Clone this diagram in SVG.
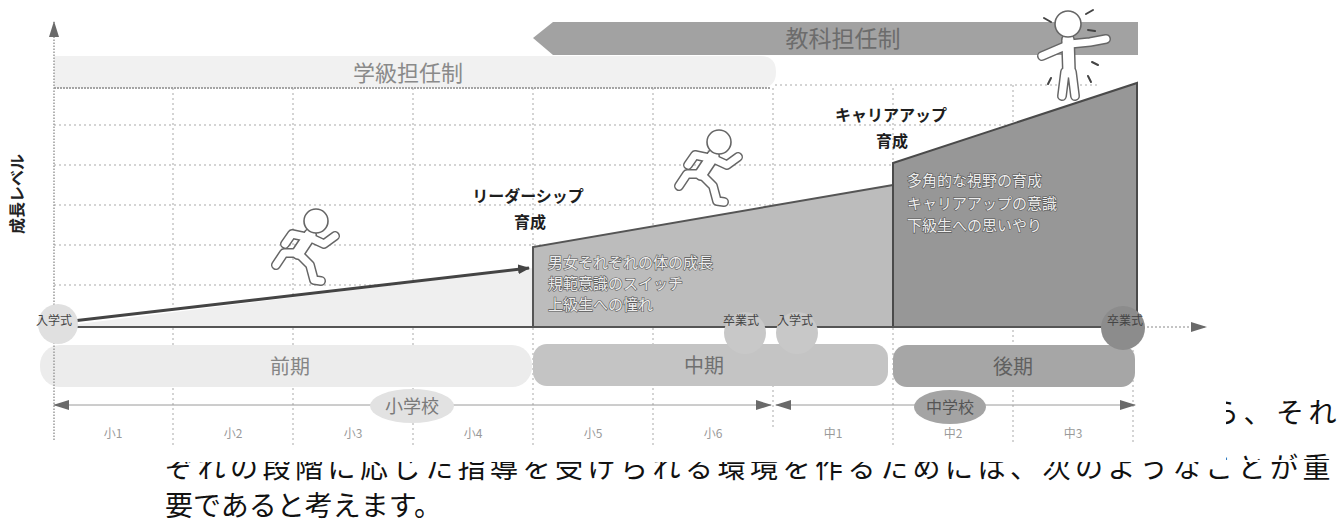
<svg xmlns="http://www.w3.org/2000/svg" width="1341" height="524" viewBox="0 0 1341 524">
  <defs>
    <style>
      text { font-family: "Noto Sans CJK JP", "Noto Sans", sans-serif; }
      .grid { fill: none; stroke: #a9a9a9; stroke-width: 1; stroke-dasharray: 2 3; }
      .head { font-size: 16px; font-weight: 700; fill: #1e1e1e; text-anchor: middle; }
      .inbox { font-size: 15px; fill: #eeeeee; stroke: #585858; stroke-width: 1.2; paint-order: stroke; }
      .period { font-size: 20px; text-anchor: middle; }
      .year { font-size: 12px; fill: #9a9a9a; text-anchor: middle; }
      .event { font-size: 12px; fill: #444; text-anchor: middle; }
      .body { font-size: 28px; fill: #111; }
      .lo { fill: none; stroke: #666; stroke-width: 10; stroke-linecap: round; stroke-linejoin: round; }
      .li { fill: none; stroke: #fff; stroke-width: 7; stroke-linecap: round; stroke-linejoin: round; }
      .to { fill: none; stroke: #666; stroke-width: 14; stroke-linecap: round; }
      .ti { fill: none; stroke: #fff; stroke-width: 11; stroke-linecap: round; }
      .skull { fill: #fff; stroke: #666; stroke-width: 1.6; }
    </style>
    <marker id="tri" viewBox="0 0 16 10" refX="15" refY="5" markerWidth="16" markerHeight="10" markerUnits="userSpaceOnUse" orient="auto-start-reverse">
      <path d="M0,0 L16,5 L0,10 Z" fill="#6a6a6a"/>
    </marker>
    <marker id="triDark" viewBox="0 0 12 10" refX="11" refY="5" markerWidth="12" markerHeight="10" markerUnits="userSpaceOnUse" orient="auto">
      <path d="M0,0 L12,5 L0,10 Z" fill="#444"/>
    </marker>
    <symbol id="runner" viewBox="0 0 80 80" width="80" height="80" overflow="visible">
      <path class="lo" d="M36,30 L22,27 L15,37 M41,31 L54,37 L65,29 M28,46 L14,46 L6,58 M28,46 L40,58 L44,73 L51,74"/>
      <path class="to" d="M40,28 L28,46"/>
      <path class="li" d="M36,30 L22,27 L15,37 M41,31 L54,37 L65,29 M28,46 L14,46 L6,58 M28,46 L40,58 L44,73 L51,74"/>
      <path class="ti" d="M40,28 L28,46"/>
      <circle class="skull" cx="46" cy="14" r="12"/>
    </symbol>
    <clipPath id="pageText">
      <rect x="0" y="462" width="1341" height="62"/>
      <rect x="1226" y="380" width="115" height="80"/>
    </clipPath>
  </defs>

  <rect width="1341" height="524" fill="#fff"/>

  <!-- running text of the page around the figure -->
  <g id="page-text" class="body" clip-path="url(#pageText)">
    <text x="1211" y="423" letter-spacing="4.5">ら、それ</text>
    <text x="165" y="478" letter-spacing="4.5">ぞれの段階に応じた指導を受けられる環境を作るためには、次のようなことが重</text>
  </g>
  <text class="body" x="165" y="516">要であると考えます。</text>

  <!-- grid -->
  <g id="grid">
    <path class="grid" d="M54,125 H1013 M54,165 H1013 M54,205 H1013 M54,245 H1013 M54,285 H1013 M775,85 H1100"/>
    <path class="grid" d="M173,88 V445 M293,88 V445 M413,88 V445 M533,88 V445 M653,88 V445 M773,88 V327 M893,88 V445 M1013,85 V445 M1133,330 V445 M773,385 V428"/>
  </g>

  <!-- homeroom / subject teacher bands -->
  <g id="band-homeroom">
    <path d="M54,56 H760 Q776,56 776,72 Q776,88 760,88 H54 Z" fill="#f1f1f1"/>
    <path d="M54,88 H770" stroke="#a4a4a4" stroke-width="2" stroke-dasharray="2 1"/>
    <text x="408" y="81" font-size="22" fill="#8a8a8a" text-anchor="middle">学級担任制</text>
  </g>
  <g id="band-subject">
    <path d="M533,38 L553,22 H1138 V55 H553 Z" fill="#a2a2a2"/>
    <text x="843" y="47" font-size="23" fill="#6c6c6c" text-anchor="middle">教科担任制</text>
  </g>

  <!-- growth stages -->
  <g id="stage-early">
    <path d="M54,327 L533,268 V327 Z" fill="#efefef"/>
  </g>
  <g id="stage-middle">
    <path d="M533,247 L893,185 V327 H533 Z" fill="#bcbcbc"/>
    <path d="M533,327 V247 L893,185" fill="none" stroke="#555" stroke-width="2"/>
    <text class="inbox" x="548" y="268">男女それぞれの体の成長</text>
    <text class="inbox" x="548" y="289">規範意識のスイッチ</text>
    <text class="inbox" x="548" y="310">上級生への憧れ</text>
  </g>
  <g id="stage-late">
    <path d="M893,163 L1137,83 V327 H893 Z" fill="#979797"/>
    <path d="M893,327 V163 L1137,83 V327" fill="none" stroke="#4a4a4a" stroke-width="2"/>
    <text class="inbox" x="907" y="186">多角的な視野の育成</text>
    <text class="inbox" x="907" y="209">キャリアアップの意識</text>
    <text class="inbox" x="907" y="231">下級生への思いやり</text>
  </g>

  <!-- stage titles -->
  <g id="title-leadership">
    <text class="head" x="528" y="202">リーダーシップ</text>
    <text class="head" x="530" y="228">育成</text>
  </g>
  <g id="title-career">
    <text class="head" x="891" y="121">キャリアアップ</text>
    <text class="head" x="892" y="147">育成</text>
  </g>

  <!-- term bands -->
  <g id="term-early">
    <rect x="40" y="345" width="492" height="42" rx="20" fill="#ececec"/>
    <text class="period" x="290" y="374" fill="#858585">前期</text>
  </g>
  <g id="term-middle">
    <rect x="533" y="344" width="355" height="42" rx="14" fill="#c4c4c4"/>
    <text class="period" x="704" y="373" fill="#707070">中期</text>
  </g>
  <g id="term-late">
    <rect x="893" y="345" width="242" height="42" rx="14" fill="#a6a6a6"/>
    <text class="period" x="1013" y="374" fill="#606060">後期</text>
  </g>

  <!-- connectors: axes, growth line, school spans -->
  <g id="connectors" fill="none">
    <path d="M54,440 V22" stroke="#9a9a9a" stroke-width="1.5" stroke-dasharray="1.5 1.5" marker-end="url(#tri)"/>
    <path d="M54,327 H1135" stroke="#555" stroke-width="2"/>
    <path d="M1135,327 H1206" stroke="#888" stroke-width="1" stroke-dasharray="2 2" marker-end="url(#tri)"/>
    <path d="M64,322 L529,268" stroke="#444" stroke-width="3" marker-end="url(#triDark)"/>
    <path d="M54,405 H771" stroke="#9a9a9a" stroke-width="1" marker-start="url(#tri)" marker-end="url(#tri)"/>
    <path d="M776,405 H1135" stroke="#9a9a9a" stroke-width="1" marker-start="url(#tri)" marker-end="url(#tri)"/>
  </g>

  <!-- ceremony markers -->
  <g id="event-entry-elem">
    <circle cx="58" cy="324" r="20" fill="#e0e0e0"/>
    <text class="event" x="54" y="325">入学式</text>
  </g>
  <g id="event-grad-elem">
    <circle cx="745" cy="333" r="21" fill="#c8c8c8"/>
    <text class="event" x="741" y="325">卒業式</text>
  </g>
  <g id="event-entry-jhs">
    <circle cx="797" cy="333" r="21" fill="#c8c8c8"/>
    <text class="event" x="795" y="325">入学式</text>
  </g>
  <g id="event-grad-jhs">
    <circle cx="1123" cy="328" r="22" fill="#8c8c8c"/>
    <text class="event" x="1125" y="325" fill="#333">卒業式</text>
  </g>

  <!-- school labels -->
  <g id="school-elem">
    <ellipse cx="412" cy="406" rx="42" ry="17" fill="#e2e2e2"/>
    <text x="412" y="413" font-size="18" fill="#7a7a7a" text-anchor="middle">小学校</text>
  </g>
  <g id="school-jhs">
    <ellipse cx="950" cy="407" rx="36" ry="17" fill="#a4a4a4"/>
    <text x="950" y="413" font-size="16" fill="#555" text-anchor="middle">中学校</text>
  </g>

  <!-- grade labels -->
  <g id="grades" class="year">
    <text x="113" y="438">小1</text>
    <text x="233" y="438">小2</text>
    <text x="353" y="438">小3</text>
    <text x="473" y="438">小4</text>
    <text x="593" y="438">小5</text>
    <text x="713" y="438">小6</text>
    <text x="833" y="438">中1</text>
    <text x="953" y="438">中2</text>
    <text x="1073" y="438">中3</text>
  </g>

  <!-- axis title -->
  <text id="axis-title" x="0" y="0" transform="translate(23,194) rotate(-90)" font-size="16" font-weight="700" fill="#222" text-anchor="middle">成長レベル</text>

  <!-- figures -->
  <use id="runner-1" href="#runner" x="270" y="207"/>
  <use id="runner-2" href="#runner" x="673" y="128"/>
  <g id="jumper" transform="translate(1038,10)">
    <path class="lo" d="M4,46 L18,40 L32,34 L52,32 L68,29 M27,62 L24,86 M34,62 L37,86"/>
    <path class="to" d="M30,30 L31,62"/>
    <path class="li" d="M4,46 L18,40 L32,34 L52,32 L68,29 M27,62 L24,86 M34,62 L37,86"/>
    <path class="ti" d="M30,30 L31,62"/>
    <circle class="skull" cx="30" cy="14" r="13"/>
    <path d="M6,8 l7,4 M48,4 l7,-4 M50,20 l7,1 M54,52 l6,3 M13,68 l-3,6 M50,66 l3,6" stroke="#444" stroke-width="2" stroke-linecap="round"/>
  </g>
</svg>
